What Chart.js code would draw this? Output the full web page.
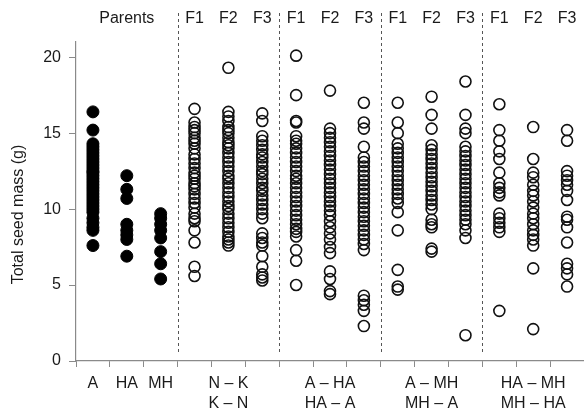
<!DOCTYPE html>
<html><head><meta charset="utf-8">
<script src="https://cdn.jsdelivr.net/npm/chart.js@4/dist/chart.umd.min.js"></script>
<style>html,body{margin:0;padding:0;background:#fff}#wrap{width:584px;height:413px}</style>
</head><body><div id="wrap"><canvas id="c" width="584" height="413"></canvas></div>
<script>
// ---- labels ----
const parentLabels = ['A', 'HA', 'MH'];
const crossLabels = [['N – K', 'K – N'], ['A – HA', 'HA – A'], ['A – MH', 'MH – A'], ['HA – MH', 'MH – HA']];
const generationLabels = ['F1', 'F2', 'F3'];
const topParentLabel = 'Parents';
const yTicks = [0, 5, 10, 15, 20];
const yTitle = 'Total seed mass (g)';

// ---- parents (filled) ----
const parentA = [16.4, 15.2, 14.3, 14.1, 13.9, 13.7, 13.5, 13.3, 13.1, 12.9, 12.7, 12.5, 12.4, 12.2, 12.0, 11.8, 11.6, 11.4, 11.2, 11.0, 10.8, 10.6, 10.4, 10.2, 10.0, 9.8, 9.4, 9.1, 8.8, 8.6, 7.6];
const parentHA = [12.2, 11.3, 10.7, 9.0, 8.6, 8.3, 8.0, 6.9];
const parentMH = [9.7, 9.4, 9.0, 8.6, 8.1, 7.2, 6.4, 5.4];

// ---- N–K / K–N ----
const nkF1 = [16.6, 15.7, 15.4, 15.2, 15.0, 14.7, 14.5, 14.3, 14.0, 13.6, 13.3, 13.0, 12.7, 12.4, 12.2, 12.0, 11.7, 11.5, 11.3, 11.0, 10.7, 10.4, 10.1, 9.7, 9.4, 9.2, 8.6, 7.8, 6.2, 5.6];
const nkF2 = [19.3, 16.4, 16.1, 15.8, 15.4, 15.2, 15.0, 14.7, 14.4, 14.2, 14.0, 13.7, 13.4, 13.1, 12.8, 12.5, 12.2, 12.0, 11.7, 11.4, 11.1, 10.8, 10.5, 10.2, 10.0, 9.7, 9.4, 9.1, 8.8, 8.5, 8.2, 8.0, 7.8, 7.6];
const nkF3 = [16.3, 15.8, 14.8, 14.5, 14.2, 13.9, 13.6, 13.4, 13.1, 12.8, 12.5, 12.3, 12.0, 11.7, 11.4, 11.2, 10.9, 10.6, 10.3, 10.0, 9.7, 9.4, 8.4, 8.1, 7.8, 7.6, 6.9, 6.2, 5.7, 5.5, 5.3];

// ---- A–HA / HA–A ----
const ahaF1 = [20.1, 17.5, 15.8, 15.7, 14.8, 14.5, 14.3, 14.0, 13.7, 13.4, 13.1, 12.8, 12.5, 12.2, 12.0, 11.7, 11.4, 11.1, 10.8, 10.5, 10.2, 9.9, 9.6, 9.3, 9.0, 8.7, 8.5, 8.2, 7.3, 6.6, 5.0];
const ahaF2 = [17.8, 15.3, 15.0, 14.7, 14.4, 14.1, 13.8, 13.5, 13.2, 12.9, 12.6, 12.3, 12.0, 11.7, 11.4, 11.1, 10.8, 10.5, 10.2, 9.9, 9.6, 9.2, 8.8, 8.4, 8.0, 7.5, 7.1, 5.9, 5.4, 4.6, 4.4];
const ahaF3 = [17.0, 15.7, 15.3, 14.1, 13.4, 13.1, 12.8, 12.5, 12.2, 11.9, 11.6, 11.3, 11.0, 10.7, 10.4, 10.1, 9.8, 9.5, 9.2, 8.9, 8.6, 8.3, 8.0, 7.7, 7.3, 4.3, 4.0, 3.7, 3.3, 2.3];

// ---- A–MH / MH–A ----
const amhF1 = [17.0, 15.7, 15.0, 14.3, 14.0, 13.7, 13.4, 13.1, 12.8, 12.5, 12.2, 11.9, 11.6, 11.3, 11.0, 10.7, 10.4, 9.8, 8.6, 6.0, 4.9, 4.7];
const amhF2 = [17.4, 16.2, 15.3, 14.2, 13.9, 13.6, 13.3, 13.0, 12.7, 12.4, 12.1, 11.8, 11.5, 11.2, 10.9, 10.6, 10.3, 10.0, 9.3, 9.0, 8.8, 7.4, 7.2];
const amhF3 = [18.4, 16.2, 15.3, 15.0, 14.1, 13.8, 13.5, 13.2, 12.9, 12.6, 12.3, 12.0, 11.7, 11.4, 11.1, 10.8, 10.5, 10.2, 9.9, 9.6, 9.3, 9.0, 8.6, 8.1, 1.7];

// ---- HA–MH / MH–HA ----
const hamhF1 = [16.9, 15.2, 14.5, 13.8, 13.3, 12.4, 11.7, 11.4, 11.1, 10.9, 9.7, 9.4, 9.1, 8.8, 8.5, 3.3];
const hamhF2 = [15.4, 13.3, 12.4, 12.1, 11.6, 11.2, 10.9, 10.5, 10.1, 9.7, 9.4, 9.0, 8.6, 8.3, 8.0, 7.6, 6.1, 2.1];
const hamhF3 = [15.2, 14.5, 12.5, 12.2, 11.9, 11.6, 11.2, 10.6, 9.5, 9.3, 8.8, 7.8, 6.4, 6.1, 5.7, 4.9];

// ---- build ----
const parentColumns = [parentA, parentHA, parentMH];
const hybridColumns = [nkF1, nkF2, nkF3, ahaF1, ahaF2, ahaF3, amhF1, amhF2, amhF3, hamhF1, hamhF2, hamhF3];
const nCols = parentColumns.length + hybridColumns.length;
const separators = [3, 6, 9, 12];

const AXIS = '#8a8a8a';
const TXT = '#1a1a1a';
const FONT = 'Liberation Sans, Arial, sans-serif';

const datasets = [];
parentColumns.forEach((vals, i) => {
  datasets.push({
    data: vals.map(v => ({ x: i + 0.5, y: v })),
    pointRadius: 6, pointBackgroundColor: '#000', pointBorderColor: '#000', pointBorderWidth: 1,
    showLine: false
  });
});
hybridColumns.forEach((vals, j) => {
  const i = parentColumns.length + j;
  datasets.push({
    data: vals.map(v => ({ x: i + 0.5, y: v })),
    pointRadius: 5.5, pointBackgroundColor: 'rgba(0,0,0,0)', pointBorderColor: '#111', pointBorderWidth: 1.6,
    showLine: false
  });
});

function bottomLabel(v) {
  const i = v - 0.5;
  if (!Number.isInteger(i)) return '';
  if (i < parentLabels.length) return parentLabels[i];
  const k = i - parentLabels.length;
  if (k % 3 === 1) return crossLabels[(k - 1) / 3];
  return '';
}
function topLabel(v) {
  const i = v - 0.5;
  if (!Number.isInteger(i)) return '';
  if (i === 1) return topParentLabel;
  if (i < parentLabels.length) return '';
  return generationLabels[(i - parentLabels.length) % 3];
}

const sepPlugin = {
  id: 'sep',
  afterDatasetsDraw(chart) {
    const ctx = chart.ctx, xs = chart.scales.x, ys = chart.scales.y;
    ctx.save();
    ctx.strokeStyle = '#555';
    ctx.lineWidth = 1;
    ctx.setLineDash([3, 3]);
    separators.forEach(s => {
      const px = Math.round(xs.getPixelForValue(s)) + 0.5;
      ctx.beginPath();
      ctx.moveTo(px, 13);
      ctx.lineTo(px, ys.bottom - 8);
      ctx.stroke();
    });
    ctx.restore();
    // rotated y-axis title
    ctx.save();
    ctx.fillStyle = TXT;
    ctx.font = '16px ' + FONT;
    ctx.textAlign = 'center';
    ctx.textBaseline = 'middle';
    ctx.translate(19, (ys.top + ys.bottom) / 2 + 13);
    ctx.rotate(-Math.PI / 2);
    ctx.fillText(yTitle, 0, 0);
    ctx.restore();
  }
};

function noSidePadding(scale, h) {
  scale.height = h;
  scale.paddingLeft = 0;
  scale.paddingRight = 0;
}

new Chart(document.getElementById('c'), {
  type: 'scatter',
  data: { datasets },
  plugins: [sepPlugin],
  options: {
    responsive: false, animation: false, devicePixelRatio: 1,
    layout: { padding: 0, autoPadding: false },
    plugins: { legend: { display: false }, tooltip: { enabled: false } },
    scales: {
      x: {
        type: 'linear', position: 'bottom', min: 0, max: nCols,
        afterBuildTicks(scale) {
          const t = [];
          for (let v = 0; v <= nCols; v += 0.5) t.push({ value: v });
          scale.ticks = t;
        },
        afterFit(scale) { noSidePadding(scale, 52); },
        grid: {
          drawOnChartArea: false, drawTicks: true, tickLength: 6,
          color: AXIS,
          tickColor: (c) => (c.tick && Number.isInteger(c.tick.value)) ? AXIS : 'rgba(0,0,0,0)'
        },
        border: { display: true, color: AXIS, width: 1.2 },
        ticks: {
          autoSkip: false, maxRotation: 0, minRotation: 0, padding: 7,
          color: TXT, font: { family: FONT, size: 16, lineHeight: 1.25 },
          callback: (v) => bottomLabel(v)
        }
      },
      xTop: {
        type: 'linear', position: 'top', min: 0, max: nCols,
        afterBuildTicks(scale) {
          const t = [];
          for (let v = 0.5; v < nCols; v += 1) t.push({ value: v });
          scale.ticks = t;
        },
        afterFit(scale) { noSidePadding(scale, 42); },
        grid: { display: false, drawTicks: false },
        border: { display: false },
        ticks: {
          autoSkip: false, maxRotation: 0, minRotation: 0, padding: 14,
          color: TXT, font: { family: FONT, size: 16 },
          callback: (v) => topLabel(v)
        }
      },
      y: {
        type: 'linear', position: 'left', min: 0, max: 21,
        afterBuildTicks(scale) { scale.ticks = yTicks.map(v => ({ value: v })); },
        afterFit(scale) { scale.width = 76; },
        grid: { drawOnChartArea: false, drawTicks: true, tickLength: 7, color: AXIS },
        border: { display: true, color: AXIS, width: 1.2 },
        ticks: { padding: 8, color: TXT, font: { family: FONT, size: 16 } },
        title: { display: false, text: yTitle }
      }
    }
  }
});
</script>
</body></html>
